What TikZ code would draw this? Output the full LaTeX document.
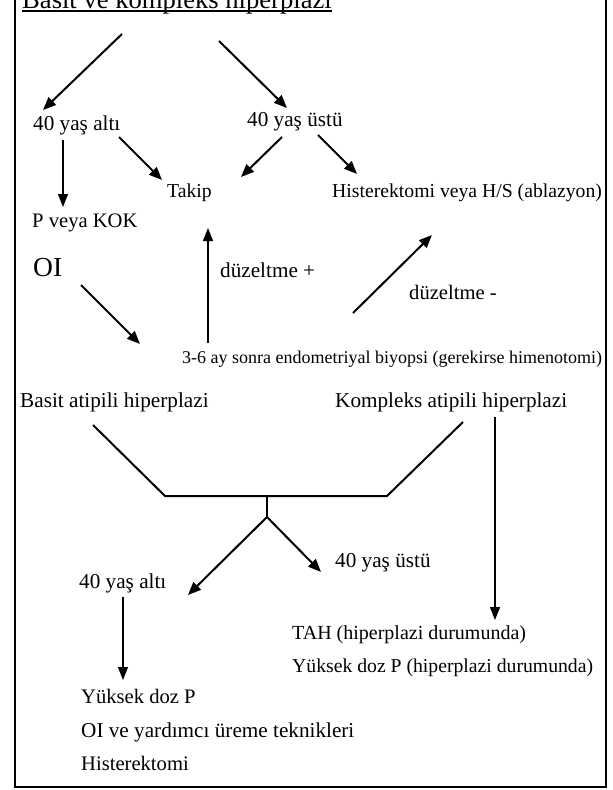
\documentclass[tikz,border=0pt]{standalone}
\usepackage{fontspec}
\setmainfont{Liberation Serif}
\usetikzlibrary{arrows.meta}
\tikzset{
	txt/.style = {anchor=base west, inner sep=0pt, font=\fontsize{20.6}{24}\selectfont},
	txts/.style = {txt, font=\fontsize{19.7}{24}\selectfont},
	txtl/.style = {txt, font=\fontsize{21.2}{24}\selectfont},
	arr/.style = {-{Triangle[length=13pt,width=10.5pt]}, line width=2pt},
	varr/.style = {-{Triangle[length=13pt,width=10pt]}, line width=1.4pt}
}
\begin{document}
\begin{tikzpicture}[x=1pt,y=-1pt]
	\useasboundingbox (0,0) rectangle (613,790);
	\draw [line width=1.5pt] (15,-10) rectangle (606,787);
	% upper part
	\node [txt, font=\fontsize{26.6}{30}\selectfont] (title) at (22,8) {Basit ve kompleks hiperplazi};
	\draw [line width=1.8pt] ([yshift=-3pt]title.base west) -- ([yshift=-3pt]title.base east);
	\node [txtl] (alti1) at (33,130) {40 yaş altı};
	\node [txtl] (ustu1) at (247,126) {40 yaş üstü};
	\node [txts] (takip) at (167,197) {Takip};
	\node [txts] (hister) at (332,197) {Histerektomi veya H/S (ablazyon)};
	\node [txt] (pkok) at (32,227) {P veya KOK};
	\node [txt, font=\fontsize{27.5}{30}\selectfont] (oi) at (33,276) {OI};
	\node [txtl] (duzplus) at (220,277) {düzeltme +};
	\node [txt] (duzminus) at (409,299) {düzeltme -};
	\node [txt, font=\fontsize{18}{21}\selectfont] (biyopsi) at (182,363) {3-6 ay sonra endometriyal biyopsi (gerekirse himenotomi)};
	\coordinate (s1) at (122,34);  \coordinate (e1) at (43,110);
	\coordinate (s2) at (219,41);  \coordinate (e2) at (287,108);
	\coordinate (s3) at (63,140);  \coordinate (e3) at (63,207);
	\coordinate (s4) at (119,137); \coordinate (e4) at (162,180);
	\coordinate (s5) at (282,137); \coordinate (e5) at (241,177);
	\coordinate (s6) at (318,135); \coordinate (e6) at (357,174);
	\coordinate (s7) at (208,343); \coordinate (e7) at (208,228);
	\coordinate (s8) at (81,285);  \coordinate (e8) at (140,344);
	\coordinate (s9) at (353,313); \coordinate (e9) at (432,235);
	\draw [arr] (s1) -- (e1);
	\draw [arr] (s2) -- (e2);
	\draw [varr] (s3) -- (e3);
	\draw [arr] (s4) -- (e4);
	\draw [arr] (s5) -- (e5);
	\draw [arr] (s6) -- (e6);
	\draw [varr] (s7) -- (e7);
	\draw [arr] (s8) -- (e8);
	\draw [arr] (s9) -- (e9);
	% lower part
	\node [txtl] (basit) at (20,407) {Basit atipili hiperplazi};
	\node [txtl] (kompleks) at (335,407) {Kompleks atipili hiperplazi};
	\node [txtl] (ustu2) at (335,567) {40 yaş üstü};
	\node [txtl] (alti2) at (79,588) {40 yaş altı};
	\node [txt, font=\fontsize{20}{24}\selectfont] (tah) at (292,639) {TAH (hiperplazi durumunda)};
	\node [txts] (yuksek2) at (292,672) {Yüksek doz P (hiperplazi durumunda)};
	\node [txt] (yuksek) at (81,703) {Yüksek doz P};
	\node [txtl] (oive) at (81,737) {OI ve yardımcı üreme teknikleri};
	\node [txt] (hister2) at (81,770) {Histerektomi};
	\coordinate (bl) at (93,425);  \coordinate (bm) at (165,496);
	\coordinate (kr) at (463,422); \coordinate (km) at (387,496);
	\coordinate (mid) at (267,496); \coordinate (fork) at (267,517);
	\coordinate (e10) at (188,595); \coordinate (e11) at (321,572);
	\coordinate (s12) at (495,417); \coordinate (e12) at (495,620);
	\coordinate (s13) at (123,597); \coordinate (e13) at (123,680);
	\draw [line width=2pt] (bl) -- (bm) -- (km) -- (kr);
	\draw [line width=1.4pt] (mid) -- (fork);
	\draw [arr] (fork) -- (e10);
	\draw [arr] (fork) -- (e11);
	\draw [varr] (s12) -- (e12);
	\draw [varr] (s13) -- (e13);
\end{tikzpicture}
\end{document}
